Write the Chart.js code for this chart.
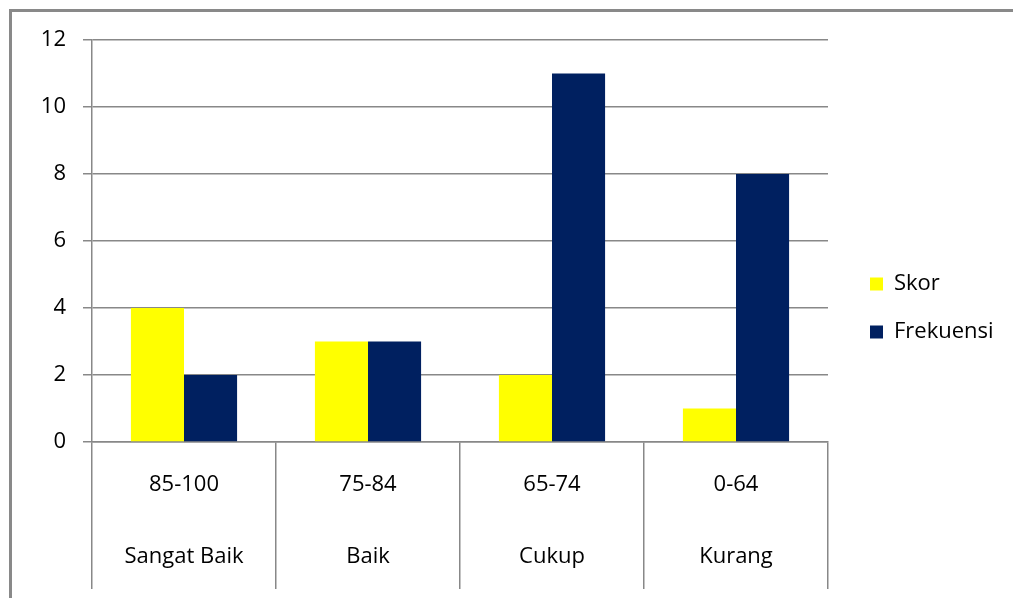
<!DOCTYPE html>
<html>
<head>
<meta charset="utf-8">
<script src="https://cdn.jsdelivr.net/npm/chart.js@4/dist/chart.umd.min.js"></script>
<style>
  html, body { margin: 0; padding: 0; background: #fff; overflow: hidden; width: 1013px; height: 598px; }
  #frame { position: absolute; left: 9px; top: 9px; width: 2000px; height: 2000px; border: 3px solid #898989; }
  #c { position: absolute; left: 0; top: 0; }
</style>
</head>
<body>
<div id="frame"></div>
<canvas id="c" width="1013" height="598"></canvas>
<script>
const rangeLabels = ["85-100", "75-84", "65-74", "0-64"];
const gradeLabels = ["Sangat Baik", "Baik", "Cukup", "Kurang"];
const skorValues = [4, 3, 2, 1];
const frekuensiValues = [2, 3, 11, 8];
const yTicks = [0, 2, 4, 6, 8, 10, 12];

const categories = rangeLabels.map((r, i) => [r, gradeLabels[i]]);
const FONT = "'Open Sans', 'DejaVu Sans', sans-serif";

const layoutTweaks = {
  id: 'layoutTweaks',
  beforeLayout(chart) {
    const lg = chart.legend;
    if (lg && !lg._patched) {
      const f = lg.fit;
      lg.fit = function () { f.call(this); this.width = 185; };
      lg._patched = true;
    }
  },
  afterLayout(chart) {
    const lg = chart.legend;
    if (lg) { lg.left += 16; lg.top -= 11; lg.bottom -= 11; }
  }
};

new Chart(document.getElementById('c'), {
  type: 'bar',
  data: {
    labels: categories,
    datasets: [
      { label: 'Skor', data: skorValues, backgroundColor: '#FFFF00', borderWidth: 0 },
      { label: 'Frekuensi', data: frekuensiValues, backgroundColor: '#002060', borderWidth: 0 }
    ]
  },
  options: {
    responsive: false,
    animation: false,
    devicePixelRatio: 1,
    datasets: { bar: { categoryPercentage: 0.577, barPercentage: 1.0 } },
    layout: { padding: { top: 40, left: 0, right: 0, bottom: 0 } },
    plugins: {
      tooltip: { enabled: false },
      legend: {
        position: 'right',
        labels: {
          boxWidth: 13, boxHeight: 13, padding: 26, color: '#000',
          font: { family: FONT, size: 22 }
        }
      }
    },
    scales: {
      x: {
        grid: { drawOnChartArea: false, drawTicks: true, tickLength: 147, color: '#888', lineWidth: 1.5 },
        border: { display: true, color: '#888', width: 1.5 },
        ticks: {
          autoSkip: false, maxRotation: 0, minRotation: 0, padding: -140, color: '#000',
          font: { family: FONT, size: 22, lineHeight: 72 / 22 }
        },
        afterFit(scale) { scale.height = 156; }
      },
      y: {
        min: 0, max: 12,
        afterBuildTicks(scale) { scale.ticks = yTicks.map(v => ({ value: v })); },
        grid: { color: '#888', lineWidth: 1.5, tickLength: 9, drawTicks: true },
        border: { display: true, color: '#888', width: 1.5 },
        ticks: { padding: 17, color: '#000', font: { family: FONT, size: 22 } },
        afterFit(scale) { scale.width = 92; }
      }
    }
  },
  plugins: [layoutTweaks]
});
</script>
</body>
</html>
